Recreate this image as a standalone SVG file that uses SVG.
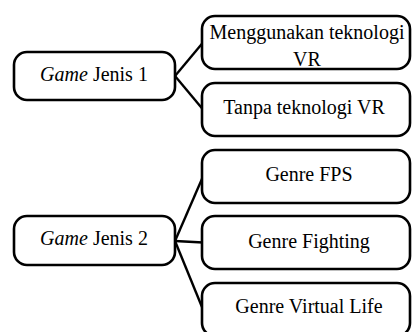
<svg xmlns="http://www.w3.org/2000/svg" width="412" height="332" viewBox="0 0 412 332">
  <style>
    .box { fill: #ffffff; stroke: #000000; stroke-width: 2.6; }
    .link { stroke: #000000; stroke-width: 2.4; fill: none; }
    .label { font-family: 'Liberation Serif', 'DejaVu Serif', serif; font-size: 20px; fill: #000000; text-anchor: middle; }
  </style>
  <rect width="412" height="332" fill="#ffffff"/>

  <!-- connectors: parent right edge to child left edge -->
  <g id="connectors">
    <line class="link" x1="175" y1="76" x2="203" y2="42.5"/>
    <line class="link" x1="175" y1="76" x2="203" y2="109.5"/>
    <line class="link" x1="175" y1="241" x2="203" y2="176.5"/>
    <line class="link" x1="175" y1="241" x2="203" y2="242.5"/>
    <line class="link" x1="175" y1="241" x2="203" y2="309.5"/>
  </g>

  <!-- first category -->
  <g id="jenis1">
    <rect class="box" x="14" y="52" width="161" height="48" rx="13"/>
    <text class="label" x="94" y="81" font-family="Liberation Serif, serif"><tspan font-style="italic">Game</tspan> Jenis 1</text>
  </g>
  <g id="vr">
    <rect class="box" x="202" y="16" width="208" height="53" rx="13"/>
    <text class="label" x="307" y="39" font-family="Liberation Serif, serif">Menggunakan teknologi</text>
    <text class="label" x="307" y="66" font-family="Liberation Serif, serif">VR</text>
  </g>
  <g id="non-vr">
    <rect class="box" x="202" y="83" width="208" height="53" rx="13"/>
    <text class="label" x="304" y="114" font-family="Liberation Serif, serif">Tanpa teknologi VR</text>
  </g>

  <!-- second category -->
  <g id="jenis2">
    <rect class="box" x="14" y="216" width="161" height="49" rx="13"/>
    <text class="label" x="94" y="245" font-family="Liberation Serif, serif"><tspan font-style="italic">Game</tspan> Jenis 2</text>
  </g>
  <g id="fps">
    <rect class="box" x="202" y="150" width="208" height="53" rx="13"/>
    <text class="label" x="309" y="181" font-family="Liberation Serif, serif">Genre FPS</text>
  </g>
  <g id="fighting">
    <rect class="box" x="202" y="216" width="208" height="53" rx="13"/>
    <text class="label" x="309" y="248" font-family="Liberation Serif, serif">Genre Fighting</text>
  </g>
  <g id="virtual-life">
    <rect class="box" x="202" y="283" width="208" height="53" rx="13"/>
    <text class="label" x="309" y="313" font-family="Liberation Serif, serif">Genre Virtual Life</text>
  </g>
</svg>
